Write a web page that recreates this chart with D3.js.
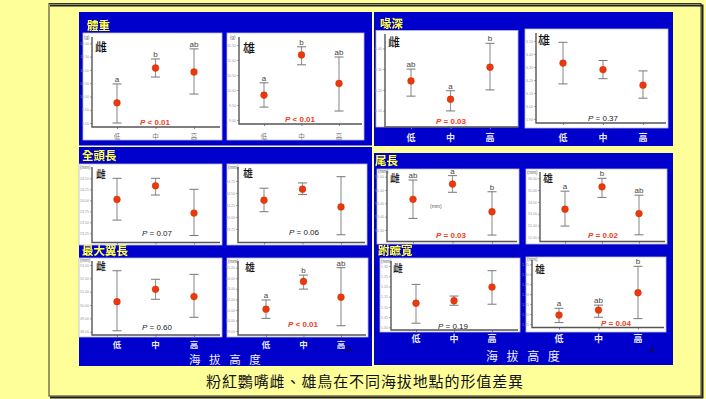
<!DOCTYPE html>
<html><head><meta charset="utf-8">
<script src="https://cdn.jsdelivr.net/npm/d3@7"></script>
<style>html,body{margin:0;padding:0;background:#ffff99;} svg{display:block}
.ttl{filter:drop-shadow(0.8px 0.8px 0 #333);}</style>
</head><body><svg id="c" width="706" height="399"></svg>
<script>
// ---------------- DATA ----------------
const categories = ["低", "中", "高"];

// 體重 (g)
const weightFemaleTicks = [12.0, 11.5, 11.0, 10.5, 10.0, 9.5, 9.0];
const weightFemaleMean = [9.76, 11.07, 10.92];
const weightFemaleLow = [9.00, 10.73, 10.09];
const weightFemaleHigh = [10.47, 11.41, 11.79];
const weightFemaleGroups = ["a", "b", "ab"];
const weightFemaleP = "< 0.01";

const weightMaleTicks = [11.5, 11.0, 10.5, 10.0, 9.5, 9.0];
const weightMaleMean = [9.83, 11.17, 10.22];
const weightMaleLow = [9.43, 10.84, 9.30];
const weightMaleHigh = [10.24, 11.44, 11.10];
const weightMaleGroups = ["a", "b", "ab"];
const weightMaleP = "< 0.01";

// 喙深
const billFemaleTicks = [6.4, 6.3, 6.2, 6.1];
const billFemaleMean = [6.243, 6.155, 6.309];
const billFemaleLow = [6.170, 6.099, 6.200];
const billFemaleHigh = [6.300, 6.196, 6.424];
const billFemaleGroups = ["ab", "a", "b"];
const billFemaleP = "= 0.03";

const billMaleTicks = [6.5, 6.4, 6.3, 6.2, 6.1, 6.0, 5.9];
const billMaleMean = [6.33, 6.28, 6.16];
const billMaleLow = [6.17, 6.21, 6.06];
const billMaleHigh = [6.49, 6.35, 6.27];
const billMaleGroups = [];
const billMaleP = "= 0.37";

// 全頭長 (mm)
const headFemaleTicks = [24.5, 24.25, 24.0, 23.75, 23.5, 23.25];
const headFemaleMean = [24.02, 24.33, 23.71];
const headFemaleLow = [23.55, 24.12, 23.20];
const headFemaleHigh = [24.50, 24.50, 24.25];
const headFemaleGroups = [];
const headFemaleP = "= 0.07";

const headMaleTicks = [24.75, 24.5, 24.25, 24.0, 23.75];
const headMaleMean = [24.35, 24.58, 24.21];
const headMaleLow = [24.11, 24.47, 23.63];
const headMaleHigh = [24.60, 24.71, 24.84];
const headMaleGroups = [];
const headMaleP = "= 0.06";

// 最大翼長 (mm)
const wingFemaleTicks = [53, 52, 51, 50, 49, 48];
const wingFemaleMean = [50.25, 51.18, 50.63];
const wingFemaleLow = [48.07, 50.43, 49.08];
const wingFemaleHigh = [52.57, 51.93, 52.30];
const wingFemaleGroups = [];
const wingFemaleP = "= 0.60";

const wingMaleTicks = [55, 54, 53, 52, 51, 50, 49];
const wingMaleMean = [51.07, 53.70, 52.20];
const wingMaleLow = [50.20, 52.97, 49.50];
const wingMaleHigh = [51.94, 54.30, 55.00];
const wingMaleGroups = ["a", "b", "ab"];
const wingMaleP = "< 0.01";

// 尾長 (mm)
const tailFemaleTicks = [56, 55, 54, 53, 52];
const tailFemaleMean = [54.30, 55.45, 53.37];
const tailFemaleLow = [52.87, 54.83, 51.62];
const tailFemaleHigh = [55.75, 56.08, 54.87];
const tailFemaleGroups = ["ab", "a", "b"];
const tailFemaleP = "= 0.03";

const tailMaleTicks = [56, 55, 54, 53, 52, 51];
const tailMaleMean = [53.38, 55.28, 53.01];
const tailMaleLow = [51.95, 54.38, 51.21];
const tailMaleHigh = [54.91, 56.00, 54.57];
const tailMaleGroups = ["a", "b", "ab"];
const tailMaleP = "= 0.02";

// 跗蹠寬 (mm)
const tarsusFemaleTicks = [1.30, 1.25, 1.20, 1.15, 1.10, 1.05, 1.00];
const tarsusFemaleMean = [1.118, 1.130, 1.197];
const tarsusFemaleLow = [1.020, 1.108, 1.113];
const tarsusFemaleHigh = [1.210, 1.153, 1.277];
const tarsusFemaleGroups = [];
const tarsusFemaleP = "= 0.19";

const tarsusMaleTicks = [1.35, 1.30, 1.25, 1.20, 1.15, 1.10, 1.05];
const tarsusMaleMean = [1.095, 1.120, 1.207];
const tarsusMaleLow = [1.057, 1.084, 1.077];
const tarsusMaleHigh = [1.129, 1.145, 1.340];
const tarsusMaleGroups = ["a", "ab", "b"];
const tarsusMaleP = "= 0.04";

const traitTitles = ["體重", "喙深", "全頭長", "尾長", "最大翼長", "跗蹠寬"];
const axisTitle = "海拔高度";
const caption = "粉紅鸚嘴雌、雄鳥在不同海拔地點的形值差異";
const pageNumbers = ["41", "42"];

// ---------------- DRAWING ----------------
const CJK = "'Noto Sans CJK TC','Noto Sans CJK SC',sans-serif";
const SANS = "'Liberation Sans',Arial,sans-serif";
const svg = d3.select("#c");

svg.append("rect").attr("width", 706).attr("height", 399).attr("fill", "#ffff99");
// outer frame
svg.append("rect").attr("x", 49).attr("y", 3.5).attr("width", 652).attr("height", 392.5)
  .attr("fill", "none").attr("stroke", "#333").attr("stroke-width", 1);
svg.append("path").attr("d", "M50,5.5H702.5V397.5H50").attr("fill", "none")
  .attr("stroke", "#222").attr("stroke-width", 2);

// blue blocks
const blocks = [[79, 12, 372, 145.5], [79, 147, 372, 366], [374, 12, 673, 146], [374, 153, 673, 365]];
svg.selectAll("rect.block").data(blocks).join("rect").attr("class", "block")
  .attr("x", d => d[0]).attr("y", d => d[1]).attr("width", d => d[2] - d[0]).attr("height", d => d[3] - d[1])
  .attr("fill", "#0000cc");

// trait titles
const titlePos = [[87, 30], [380, 27.5], [82, 160], [375, 165], [82, 255], [378, 255]];
traitTitles.forEach((t, i) => {
  const [tx, ty] = titlePos[i];
  svg.append("text").attr("class", "ttl").attr("x", tx).attr("y", ty).text(t)
    .attr("font-family", CJK).attr("font-size", 11.5).attr("font-weight", 700).attr("fill", "#ffff55");
});

const panels = [
  { sex: "雌", ticks: weightFemaleTicks, mean: weightFemaleMean, low: weightFemaleLow, high: weightFemaleHigh, groups: weightFemaleGroups, p: weightFemaleP,
    box: [83, 33, 222, 140], ax: 92, axTop: 37, xy: 127, xr: 220, yRange: [43.3, 123], xRange: [117, 194],
    cat: "inside", catY: 138.5, sexPos: [95, 52], sexSize: 12, unit: "(g)", unitPos: [84, 38.5], pPos: [155, 125] },
  { sex: "雄", ticks: weightMaleTicks, mean: weightMaleMean, low: weightMaleLow, high: weightMaleHigh, groups: weightMaleGroups, p: weightMaleP,
    box: [227, 33, 364, 140], ax: 239, axTop: 37, xy: 124, xr: 362, yRange: [45, 120], xRange: [264, 339],
    cat: "inside", catY: 138.5, sexPos: [243, 53], sexSize: 12, unit: "(g)", unitPos: [230, 38.5], pPos: [300, 122] },
  { sex: "雌", ticks: billFemaleTicks, mean: billFemaleMean, low: billFemaleLow, high: billFemaleHigh, groups: billFemaleGroups, p: billFemaleP,
    box: [376, 30.5, 518, 127], ax: 385, axTop: 34, xy: 127, xr: 518, yRange: [48.3, 110.7], xRange: [411, 490],
    cat: "outside", catY: 140.5, sexPos: [388, 47], sexSize: 12, unit: "", unitPos: [0, 0], pPos: [451, 124] },
  { sex: "雄", ticks: billMaleTicks, mean: billMaleMean, low: billMaleLow, high: billMaleHigh, groups: billMaleGroups, p: billMaleP,
    box: [525, 29, 668, 128], ax: 536, axTop: 33, xy: 123, xr: 666, yRange: [41, 119], xRange: [563, 643],
    cat: "outside", catY: 140.5, sexPos: [538, 45], sexSize: 12, unit: "", unitPos: [0, 0], pPos: [603, 121] },
  { sex: "雌", ticks: headFemaleTicks, mean: headFemaleMean, low: headFemaleLow, high: headFemaleHigh, groups: headFemaleGroups, p: headFemaleP,
    box: [79, 164, 222, 245], ax: 92, axTop: 167, xy: 242.5, xr: 220, yRange: [178.3, 233.3], xRange: [117, 194],
    cat: "none", catY: 0, sexPos: [96, 178], sexSize: 10, unit: "(mm)", unitPos: [80, 169], pPos: [157, 236] },
  { sex: "雄", ticks: headMaleTicks, mean: headMaleMean, low: headMaleLow, high: headMaleHigh, groups: headMaleGroups, p: headMaleP,
    box: [227, 164, 367, 245], ax: 238, axTop: 167, xy: 242.5, xr: 365, yRange: [181, 229], xRange: [264, 341],
    cat: "none", catY: 0, sexPos: [243, 177], sexSize: 10, unit: "(mm)", unitPos: [228, 169], pPos: [304, 235] },
  { sex: "雌", ticks: wingFemaleTicks, mean: wingFemaleMean, low: wingFemaleLow, high: wingFemaleHigh, groups: wingFemaleGroups, p: wingFemaleP,
    box: [79, 258, 222, 337], ax: 92, axTop: 261, xy: 335, xr: 220, yRange: [265, 331.7], xRange: [117, 194],
    cat: "outside", catY: 347.5, catSize: 8.5, sexPos: [96, 270], sexSize: 10, unit: "(mm)", unitPos: [80, 261.5], pPos: [157, 330] },
  { sex: "雄", ticks: wingMaleTicks, mean: wingMaleMean, low: wingMaleLow, high: wingMaleHigh, groups: wingMaleGroups, p: wingMaleP,
    box: [227, 258, 368, 337], ax: 238, axTop: 261, xy: 335, xr: 366, yRange: [267.7, 331], xRange: [266, 341],
    cat: "outside", catY: 347.5, catSize: 8.5, sexPos: [245, 271], sexSize: 10, unit: "(mm)", unitPos: [228, 263], pPos: [303, 327] },
  { sex: "雌", ticks: tailFemaleTicks, mean: tailFemaleMean, low: tailFemaleLow, high: tailFemaleHigh, groups: tailFemaleGroups, p: tailFemaleP,
    box: [377, 169, 519, 244], ax: 387, axTop: 171, xy: 241.5, xr: 517, yRange: [176.7, 230], xRange: [413, 492],
    cat: "none", catY: 0, sexPos: [390, 182], sexSize: 10, unit: "(mm)", unitPos: [378, 173], pPos: [451, 238], extraUnit: [430, 208] },
  { sex: "雄", ticks: tailMaleTicks, mean: tailMaleMean, low: tailMaleLow, high: tailMaleHigh, groups: tailMaleGroups, p: tailMaleP,
    box: [526, 169, 667, 244], ax: 540, axTop: 172, xy: 241.5, xr: 665, yRange: [178.3, 237.3], xRange: [565, 639],
    cat: "none", catY: 0, sexPos: [543, 182], sexSize: 10, unit: "(mm)", unitPos: [527, 174], pPos: [603, 238] },
  { sex: "雌", ticks: tarsusFemaleTicks, mean: tarsusFemaleMean, low: tarsusFemaleLow, high: tarsusFemaleHigh, groups: tarsusFemaleGroups, p: tarsusFemaleP,
    box: [380, 258, 520, 332], ax: 391, axTop: 261, xy: 330, xr: 518, yRange: [266, 327.3], xRange: [416, 492],
    cat: "outside", catY: 342, sexPos: [393, 272], sexSize: 10, unit: "(mm)", unitPos: [381, 262.5], pPos: [453, 329] },
  { sex: "雄", ticks: tarsusMaleTicks, mean: tarsusMaleMean, low: tarsusMaleLow, high: tarsusMaleHigh, groups: tarsusMaleGroups, p: tarsusMaleP,
    box: [526, 257, 666, 332], ax: 532, axTop: 260, xy: 327.5, xr: 664, yRange: [264.3, 324], xRange: [559, 638],
    cat: "outside", catY: 342, sexPos: [535, 273], sexSize: 10, unit: "(mm)", unitPos: [527, 261], pPos: [616, 326] }
];

function drawPanel(p) {
  const g = svg.append("g");
  const [bx0, by0, bx1, by1] = p.box;
  g.append("rect").attr("x", bx0).attr("y", by0).attr("width", bx1 - bx0).attr("height", by1 - by0)
    .attr("fill", "#ffffff").attr("stroke", "#b8bcd8").attr("stroke-width", 0.8);

  const y = d3.scaleLinear().domain([p.ticks[0], p.ticks[p.ticks.length - 1]]).range(p.yRange);
  const x = d3.scalePoint().domain(categories).range(p.xRange);

  const ya = g.append("g").attr("transform", `translate(${p.ax},0)`)
    .call(d3.axisLeft(y).tickValues(p.ticks).tickFormat(d3.format(".2f")).tickSize(2).tickPadding(1));
  ya.select(".domain").remove();
  ya.selectAll("line").attr("stroke", "#aaa");
  ya.selectAll("text").attr("font-size", 3.6).attr("fill", "#999").attr("font-family", SANS);

  const xa = g.append("g").attr("transform", `translate(0,${p.xy})`)
    .call(d3.axisBottom(x).tickSize(2).tickFormat(""));
  xa.select(".domain").remove();
  xa.selectAll("line").attr("stroke", "#888");

  g.append("path").attr("d", `M${p.ax},${p.axTop}V${p.xy}H${p.xr}`)
    .attr("fill", "none").attr("stroke", "#555").attr("stroke-width", 1.4);

  const idx = d3.range(categories.length);
  const cap = 4.5;
  const bars = g.selectAll("g.bar").data(idx).join("g").attr("class", "bar");
  bars.append("line").attr("x1", i => x(categories[i])).attr("x2", i => x(categories[i]))
    .attr("y1", i => y(p.high[i])).attr("y2", i => y(p.low[i]))
    .attr("stroke", "#999").attr("stroke-width", 1.2);
  bars.append("line").attr("x1", i => x(categories[i]) - cap).attr("x2", i => x(categories[i]) + cap)
    .attr("y1", i => y(p.high[i])).attr("y2", i => y(p.high[i]))
    .attr("stroke", "#777").attr("stroke-width", 1);
  bars.append("line").attr("x1", i => x(categories[i]) - cap).attr("x2", i => x(categories[i]) + cap)
    .attr("y1", i => y(p.low[i])).attr("y2", i => y(p.low[i]))
    .attr("stroke", "#777").attr("stroke-width", 1);
  bars.append("circle").attr("cx", i => x(categories[i])).attr("cy", i => y(p.mean[i]))
    .attr("r", 3.4).attr("fill", "#e83a0c").attr("stroke", "#d02000").attr("stroke-width", 0.4);

  if (p.groups.length) {
    g.selectAll("text.grp").data(idx).join("text").attr("class", "grp")
      .attr("x", i => x(categories[i])).attr("y", i => y(p.high[i]) - 2)
      .attr("text-anchor", "middle").attr("font-family", SANS).attr("font-size", 8).attr("fill", "#444")
      .text(i => p.groups[i]);
  }

  g.append("text").attr("x", p.sexPos[0]).attr("y", p.sexPos[1]).text(p.sex)
    .attr("font-family", CJK).attr("font-size", p.sexSize).attr("font-weight", 500).attr("fill", "#111");

  if (p.unit) {
    g.append("text").attr("x", p.unitPos[0]).attr("y", p.unitPos[1]).text(p.unit)
      .attr("font-family", SANS).attr("font-size", 4.5).attr("fill", "#555");
  }
  if (p.extraUnit) {
    g.append("text").attr("x", p.extraUnit[0]).attr("y", p.extraUnit[1]).text(p.unit)
      .attr("font-family", SANS).attr("font-size", 5).attr("fill", "#555");
  }

  const sig = p.groups.length > 0;
  const pt = g.append("text").attr("x", p.pPos[0]).attr("y", p.pPos[1]).attr("text-anchor", "middle")
    .attr("font-family", SANS).attr("font-size", 8).attr("font-weight", sig ? 700 : 400)
    .attr("fill", sig ? "#f04020" : "#222");
  pt.append("tspan").attr("font-style", "italic").text("P");
  pt.append("tspan").text(" " + p.p);

  if (p.cat === "inside") {
    g.selectAll("text.cat").data(categories).join("text").attr("class", "cat")
      .attr("x", d => x(d)).attr("y", p.catY).attr("text-anchor", "middle")
      .attr("font-family", CJK).attr("font-size", 6.5).attr("fill", "#777").text(d => d);
  } else if (p.cat === "outside") {
    g.selectAll("text.cat").data(categories).join("text").attr("class", "cat")
      .attr("x", d => x(d)).attr("y", p.catY).attr("text-anchor", "middle")
      .attr("font-family", CJK).attr("font-size", p.catSize || 9).attr("font-weight", 700).attr("fill", "#e8e8ff").text(d => d);
  }
}
panels.forEach(drawPanel);

// axis titles 海拔高度
[[189, 363.5, 11.5], [486, 361, 12]].forEach(([tx, ty, fs]) => {
  svg.append("text").attr("x", tx).attr("y", ty).text(axisTitle)
    .attr("font-family", CJK).attr("font-size", fs).attr("fill", "#f0f0ff").attr("letter-spacing", 8.6);
});
// page numbers
[[349, 352], [652, 352]].forEach(([tx, ty], i) => {
  svg.append("text").attr("x", tx).attr("y", ty).text(pageNumbers[i]).attr("text-anchor", "middle")
    .attr("font-family", SANS).attr("font-size", 6).attr("fill", "#111");
});

// caption
svg.append("text").attr("x", 365).attr("y", 387).attr("text-anchor", "middle").text(caption)
  .attr("font-family", CJK).attr("font-size", 15).attr("letter-spacing", 0.9).attr("fill", "#111");
</script></body></html>
